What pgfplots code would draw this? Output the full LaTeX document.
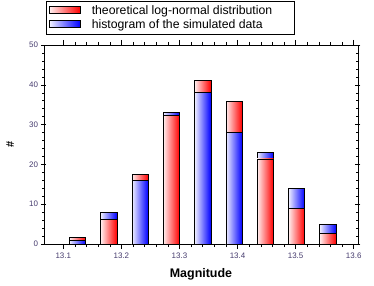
\documentclass[border=0pt]{standalone}
\usepackage{fontspec}
\setmainfont{Liberation Sans}
\usepackage{pgfplots}
\pgfplotsset{compat=1.18}
\definecolor{tlab}{RGB}{70,60,110}
\pgfplotsset{
  rstyle/.style={draw=black, line width=0.6pt, left color=red!6, right color=red},
  bstyle/.style={draw=black, line width=0.6pt, left color=blue!6, right color=blue},
}
\begin{document}
\begin{tikzpicture}
\begin{axis}[
  name=ax,
  scale only axis,
  width=314bp, height=199bp,
  xmin=13.0668, xmax=13.6074,
  ymin=0, ymax=50,
  xtick={13.1,13.2,13.3,13.4,13.5,13.6},
  ytick={0,10,20,30,40,50},
  minor x tick num=4,
  minor y tick num=4,
  tick pos=both,
  tick align=center,
  major tick length=5bp,
  minor tick length=3bp,
  tick style={black, line width=0.5pt},
  axis line style={black, line width=0.6pt},
  /pgf/number format/assume math mode=true,
  xticklabel style={font=\fontsize{8}{9}\selectfont, text=tlab, /pgf/number format/fixed, /pgf/number format/precision=1},
  yticklabel style={font=\fontsize{8}{9}\selectfont, text=tlab},
  xlabel={\bfseries Magnitude},
  ylabel={\bfseries\#},
  xlabel style={font=\fontsize{12.5}{14}\selectfont, at={(axis description cs:0.5,-0.15)}, anchor=center},
  ylabel style={font=\fontsize{11}{12}\selectfont, at={(axis description cs:-0.108,0.5)}, anchor=center},
  ybar, bar width=0.028, bar shift=0pt,
  legend style={at={(axis description cs:0.006,1.219)}, anchor=north west,
    draw=black, line width=0.6pt, fill=white, font=\fontsize{12.3}{14}\selectfont,
    inner xsep=3bp, inner ysep=2bp, row sep=0bp},
  legend cell align=left,
  legend image code/.code={\draw[#1,draw=black,line width=0.6pt] (0bp,-2bp) rectangle (31bp,4.5bp);},
]
\addlegendimage{rstyle}
\addlegendentry{\rule{9bp}{0pt}theoretical log-normal distribution\rule{17bp}{0pt}}
\addlegendimage{bstyle}
\addlegendentry{\rule{9bp}{0pt}histogram of the simulated data}
% larger value drawn first, smaller value drawn over it
% bin 1: theoretical 1.7, histogram 1
\addplot[rstyle, forget plot] coordinates {(13.1244,1.7)};
\addplot[bstyle, forget plot] coordinates {(13.1244,1)};
% bin 2: theoretical 6.2, histogram 8
\addplot[bstyle, forget plot] coordinates {(13.1783,8)};
\addplot[rstyle, forget plot] coordinates {(13.1783,6.2)};
% bin 3: theoretical 17.5, histogram 16
\addplot[rstyle, forget plot] coordinates {(13.2322,17.5)};
\addplot[bstyle, forget plot] coordinates {(13.2322,16)};
% bin 4: theoretical 32.4, histogram 33
\addplot[bstyle, forget plot] coordinates {(13.2861,33)};
\addplot[rstyle, forget plot] coordinates {(13.2861,32.4)};
% bin 5: theoretical 41.1, histogram 38
\addplot[rstyle, forget plot] coordinates {(13.3400,41.1)};
\addplot[bstyle, forget plot] coordinates {(13.3400,38)};
% bin 6: theoretical 35.8, histogram 28
\addplot[rstyle, forget plot] coordinates {(13.3939,35.8)};
\addplot[bstyle, forget plot] coordinates {(13.3939,28)};
% bin 7: theoretical 21.4, histogram 23
\addplot[bstyle, forget plot] coordinates {(13.4478,23)};
\addplot[rstyle, forget plot] coordinates {(13.4478,21.4)};
% bin 8: theoretical 8.9, histogram 14
\addplot[bstyle, forget plot] coordinates {(13.5017,14)};
\addplot[rstyle, forget plot] coordinates {(13.5017,8.9)};
% bin 9: theoretical 2.6, histogram 5
\addplot[bstyle, forget plot] coordinates {(13.5556,5)};
\addplot[rstyle, forget plot] coordinates {(13.5556,2.6)};
\end{axis}
\path (ax.south west) ++(-44bp,-42bp) coordinate (bl);
\path (ax.north east) ++(16bp,45bp) coordinate (tr);
\path (bl) rectangle (tr);
\end{tikzpicture}
\end{document}
